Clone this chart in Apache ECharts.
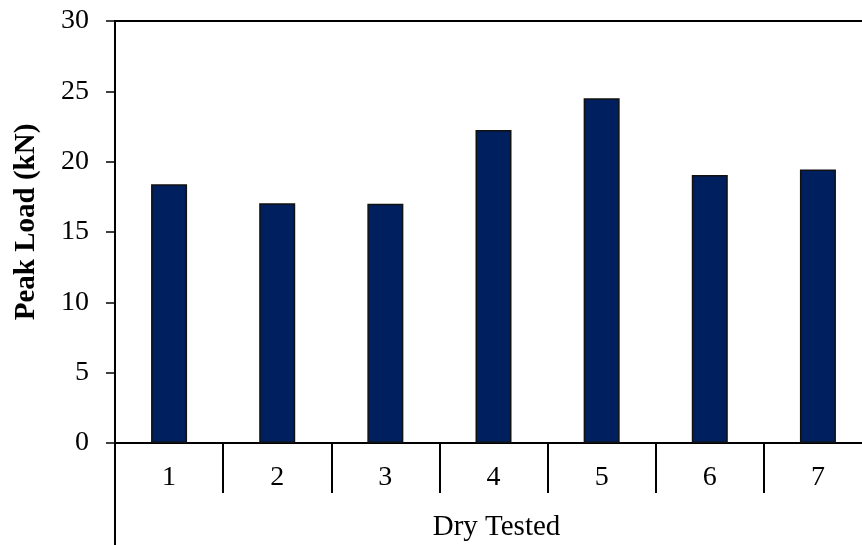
<!DOCTYPE html>
<html>
<head>
<meta charset="utf-8">
<script src="https://cdn.jsdelivr.net/npm/echarts@6/dist/echarts.min.js"></script>
<style>html,body{margin:0;padding:0;background:#fff}#c{width:862px;height:545px}</style>
</head>
<body>
<div id="c"></div>
<script>
var categories = ['1', '2', '3', '4', '5', '6', '7'];
var peakLoad = [18.4, 17.05, 17.0, 22.25, 24.5, 19.05, 19.45];
var yTicks = [0, 5, 10, 15, 20, 25, 30];
var yAxisTitle = 'Peak Load (kN)';
var xAxisTitle = 'Dry Tested';

var font = '"Liberation Serif", "Times New Roman", serif';
var chart = echarts.init(document.getElementById('c'));
chart.setOption({
  animation: false,
  grid: { left: 115, width: 757, top: 21, height: 422, outerBoundsMode: 'none', containLabel: false,
    show: true, borderColor: '#000', borderWidth: 2, backgroundColor: 'transparent' },
  xAxis: {
    type: 'category',
    data: categories,
    name: xAxisTitle,
    nameLocation: 'middle',
    nameGap: 70,
    nameTextStyle: { fontFamily: font, fontSize: 29, color: '#000', padding: [0, 0, 0, 6] },
    axisLine: { lineStyle: { color: '#000', width: 1.5 } },
    axisTick: { show: true, length: 50, interval: 0, lineStyle: { color: '#000', width: 2 } },
    axisLabel: { fontFamily: font, fontSize: 28, color: '#000', margin: 21, interval: 0 }
  },
  yAxis: {
    type: 'value',
    min: 0, max: 30, interval: 5,
    name: yAxisTitle,
    nameLocation: 'middle',
    nameGap: 74,
    nameTextStyle: { fontFamily: font, fontSize: 29, fontWeight: 'bold', color: '#000', padding: [0, 0, 0, 20] },
    axisLine: { show: true, lineStyle: { color: '#000', width: 2 } },
    axisTick: { show: true, length: 9, lineStyle: { color: '#000', width: 1.5 } },
    axisLabel: { fontFamily: font, fontSize: 28, color: '#000', margin: 26,
      formatter: function (v) { return yTicks.indexOf(v) >= 0 ? String(v) : ''; } },
    splitLine: { show: false }
  },
  graphic: [{
    type: 'line',
    shape: { x1: 115, y1: 443, x2: 115, y2: 545 },
    style: { stroke: '#000', lineWidth: 2 }
  }],
  series: [{
    type: 'bar',
    data: peakLoad,
    barWidth: 36,
    itemStyle: { color: '#001F5F', borderColor: '#111', borderWidth: 1.5 }
  }]
});
</script>
</body>
</html>
